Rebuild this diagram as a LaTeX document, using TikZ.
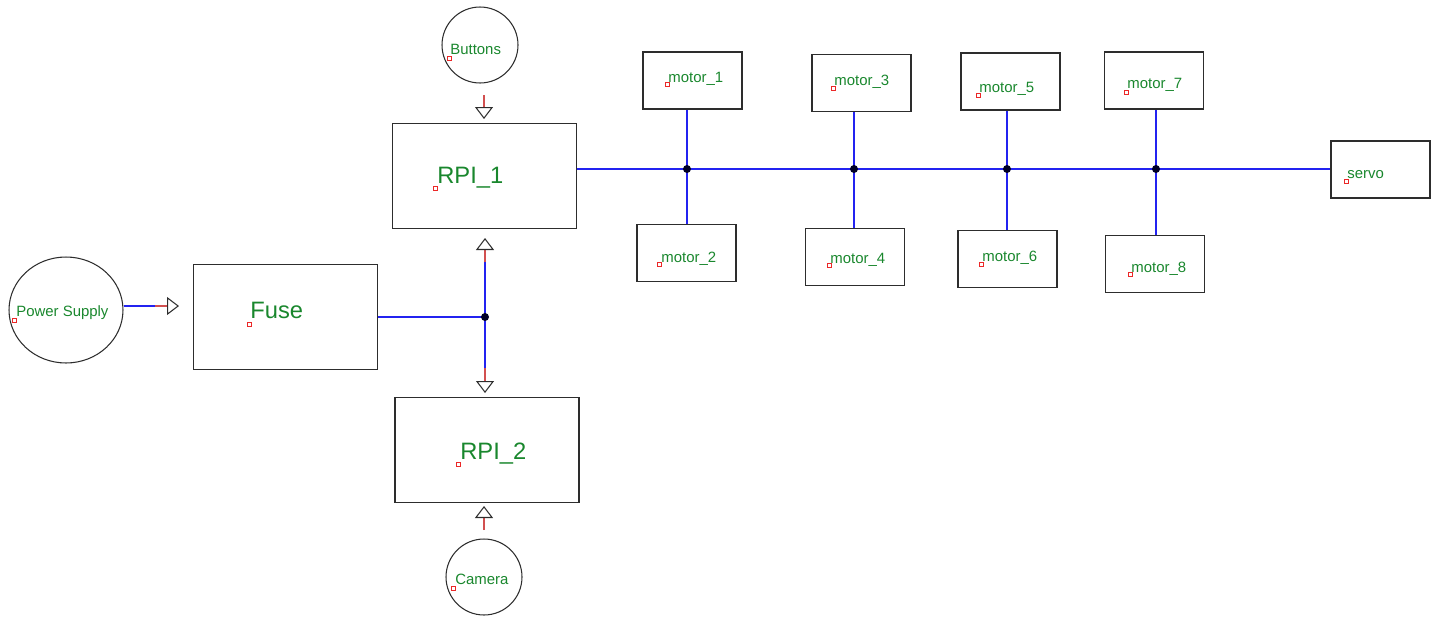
\documentclass[tikz,border=0pt]{standalone}
\usepackage{fontspec}
\setmainfont{Liberation Sans}
\usetikzlibrary{arrows.meta,shapes.geometric}
\definecolor{tagGreen}{RGB}{25,135,45}
\definecolor{boxGray}{RGB}{45,45,45}
\definecolor{busBlue}{RGB}{35,35,240}
\definecolor{portRed}{RGB}{210,80,80}
\definecolor{pinRed}{RGB}{235,40,40}
\tikzset{
	blk/.style={draw=boxGray, line width=0.9pt, inner sep=0pt},
	bigbox/.style={blk, minimum width=3.68cm, minimum height=2.1cm},
	motorbox/.style={blk, minimum width=1.98cm, minimum height=1.14cm},
	disc/.style={draw=boxGray, line width=0.6pt, circle, minimum size=1.52cm, inner sep=0pt},
	tag/.style={anchor=base west, inner sep=0pt, text=tagGreen, font=\fontsize{8.5}{10}\selectfont},
	bigtag/.style={tag, font=\fontsize{13.5}{16}\selectfont},
	pinsq/.style={draw=pinRed, fill=white, line width=0.45pt, minimum size=0.08cm, inner sep=0pt},
	bus/.style={draw=busBlue, line width=0.6pt},
	port/.style={draw=portRed, line width=0.6pt, -{Triangle[open, length=0.24cm, width=0.36cm, color=boxGray]}},
	jdot/.style={circle, fill=black!85!blue, minimum size=0.16cm, inner sep=0pt}
}
\begin{document}
\begin{tikzpicture}[x=0.02cm, y=-0.02cm]
		\useasboundingbox (0,0) rectangle (1436,616);
		% sources
		\node[disc] (Buttons) at (480,45) {};
		\node[disc, ellipse, minimum width=2.28cm, minimum height=2.12cm] (PS) at (66,310) {};
		\node[disc] (Camera) at (484,577) {};
		% blocks
		\node[bigbox] (RPI_1) at (484.5,176) {};
		\node[bigbox] (Fuse) at (285.5,317) {};
		\node[bigbox] (RPI_2) at (487,450) {};
		\node[motorbox] (motor_1) at (692.5,80.5) {};
		\node[motorbox] (motor_2) at (686.5,253) {};
		\node[motorbox] (motor_3) at (861.5,83) {};
		\node[motorbox] (motor_4) at (855,257) {};
		\node[motorbox] (motor_5) at (1010.5,81.5) {};
		\node[motorbox] (motor_6) at (1007.5,259) {};
		\node[motorbox] (motor_7) at (1154,80.5) {};
		\node[motorbox] (motor_8) at (1155,264) {};
		\node[motorbox] (servo) at (1380.5,169.5) {};
		% labels
		\node[tag] (Buttons_t) at (450,54) {Buttons};
		\node[tag] (PS_t) at (16,316) {Power Supply};
		\node[tag] (Camera_t) at (455,584) {Camera};
		\node[bigtag] (RPI_1_t) at (437,183) {RPI\_1};
		\node[bigtag] (Fuse_t) at (250,318) {Fuse};
		\node[bigtag] (RPI_2_t) at (460,459) {RPI\_2};
		\node[tag] (motor_1_t) at (668,82) {motor\_1};
		\node[tag] (motor_2_t) at (661,262) {motor\_2};
		\node[tag] (motor_3_t) at (834,85) {motor\_3};
		\node[tag] (motor_4_t) at (830,263) {motor\_4};
		\node[tag] (motor_5_t) at (979,92) {motor\_5};
		\node[tag] (motor_6_t) at (982,261) {motor\_6};
		\node[tag] (motor_7_t) at (1127,88) {motor\_7};
		\node[tag] (motor_8_t) at (1131,272) {motor\_8};
		\node[tag] (servo_t) at (1347,178) {servo};
		% red anchor squares
		\node[pinsq] (Buttons_p) at (449,58) {};
		\node[pinsq] (PS_p) at (14,320) {};
		\node[pinsq] (Camera_p) at (453,588) {};
		\node[pinsq] (RPI_1_p) at (435,188) {};
		\node[pinsq] (Fuse_p) at (249,324) {};
		\node[pinsq] (RPI_2_p) at (458,464) {};
		\node[pinsq] (motor_1_p) at (667,84) {};
		\node[pinsq] (motor_2_p) at (659,264) {};
		\node[pinsq] (motor_3_p) at (833,88) {};
		\node[pinsq] (motor_4_p) at (829,265) {};
		\node[pinsq] (motor_5_p) at (978,95) {};
		\node[pinsq] (motor_6_p) at (981,264) {};
		\node[pinsq] (motor_7_p) at (1126,92) {};
		\node[pinsq] (motor_8_p) at (1130,274) {};
		\node[pinsq] (servo_p) at (1346,181) {};
		% ports
		\coordinate (Buttons_o) at (484,95);
		\coordinate (RPI_1_i) at (484,119);
		\coordinate (PS_o) at (155,306);
		\coordinate (Fuse_i) at (179,306);
		\coordinate (J_0) at (485,317);
		\coordinate (up_o) at (485,262);
		\coordinate (RPI_1_j) at (485,238);
		\coordinate (dn_o) at (485,368);
		\coordinate (RPI_2_j) at (485,393);
		\coordinate (Camera_o) at (484,530);
		\coordinate (RPI_2_i) at (484,506);
		\draw[port] (Buttons_o) -- (RPI_1_i);
		\draw[bus] (PS.east |- PS_o) -- (PS_o);
		\draw[port] (PS_o) -- (Fuse_i);
		\draw[bus] (Fuse.east |- J_0) -- (J_0);
		\draw[bus] (up_o) -- (dn_o);
		\draw[port] (up_o) -- (RPI_1_j);
		\draw[port] (dn_o) -- (RPI_2_j);
		\draw[port] (Camera_o) -- (RPI_2_i);
		% motor bus
		\coordinate (J_1) at (687,169);
		\coordinate (J_2) at (854,169);
		\coordinate (J_3) at (1007,169);
		\coordinate (J_4) at (1156,169);
		\draw[bus] (RPI_1.east |- J_1) -- (servo.west |- J_1);
		\draw[bus] (J_1 |- motor_1.south) -- (J_1 |- motor_2.north);
		\draw[bus] (J_2 |- motor_3.south) -- (J_2 |- motor_4.north);
		\draw[bus] (J_3 |- motor_5.south) -- (J_3 |- motor_6.north);
		\draw[bus] (J_4 |- motor_7.south) -- (J_4 |- motor_8.north);
		\node[jdot] (d_0) at (J_0) {};
		\node[jdot] (d_1) at (J_1) {};
		\node[jdot] (d_2) at (J_2) {};
		\node[jdot] (d_3) at (J_3) {};
		\node[jdot] (d_4) at (J_4) {};
	\end{tikzpicture}
\end{document}
